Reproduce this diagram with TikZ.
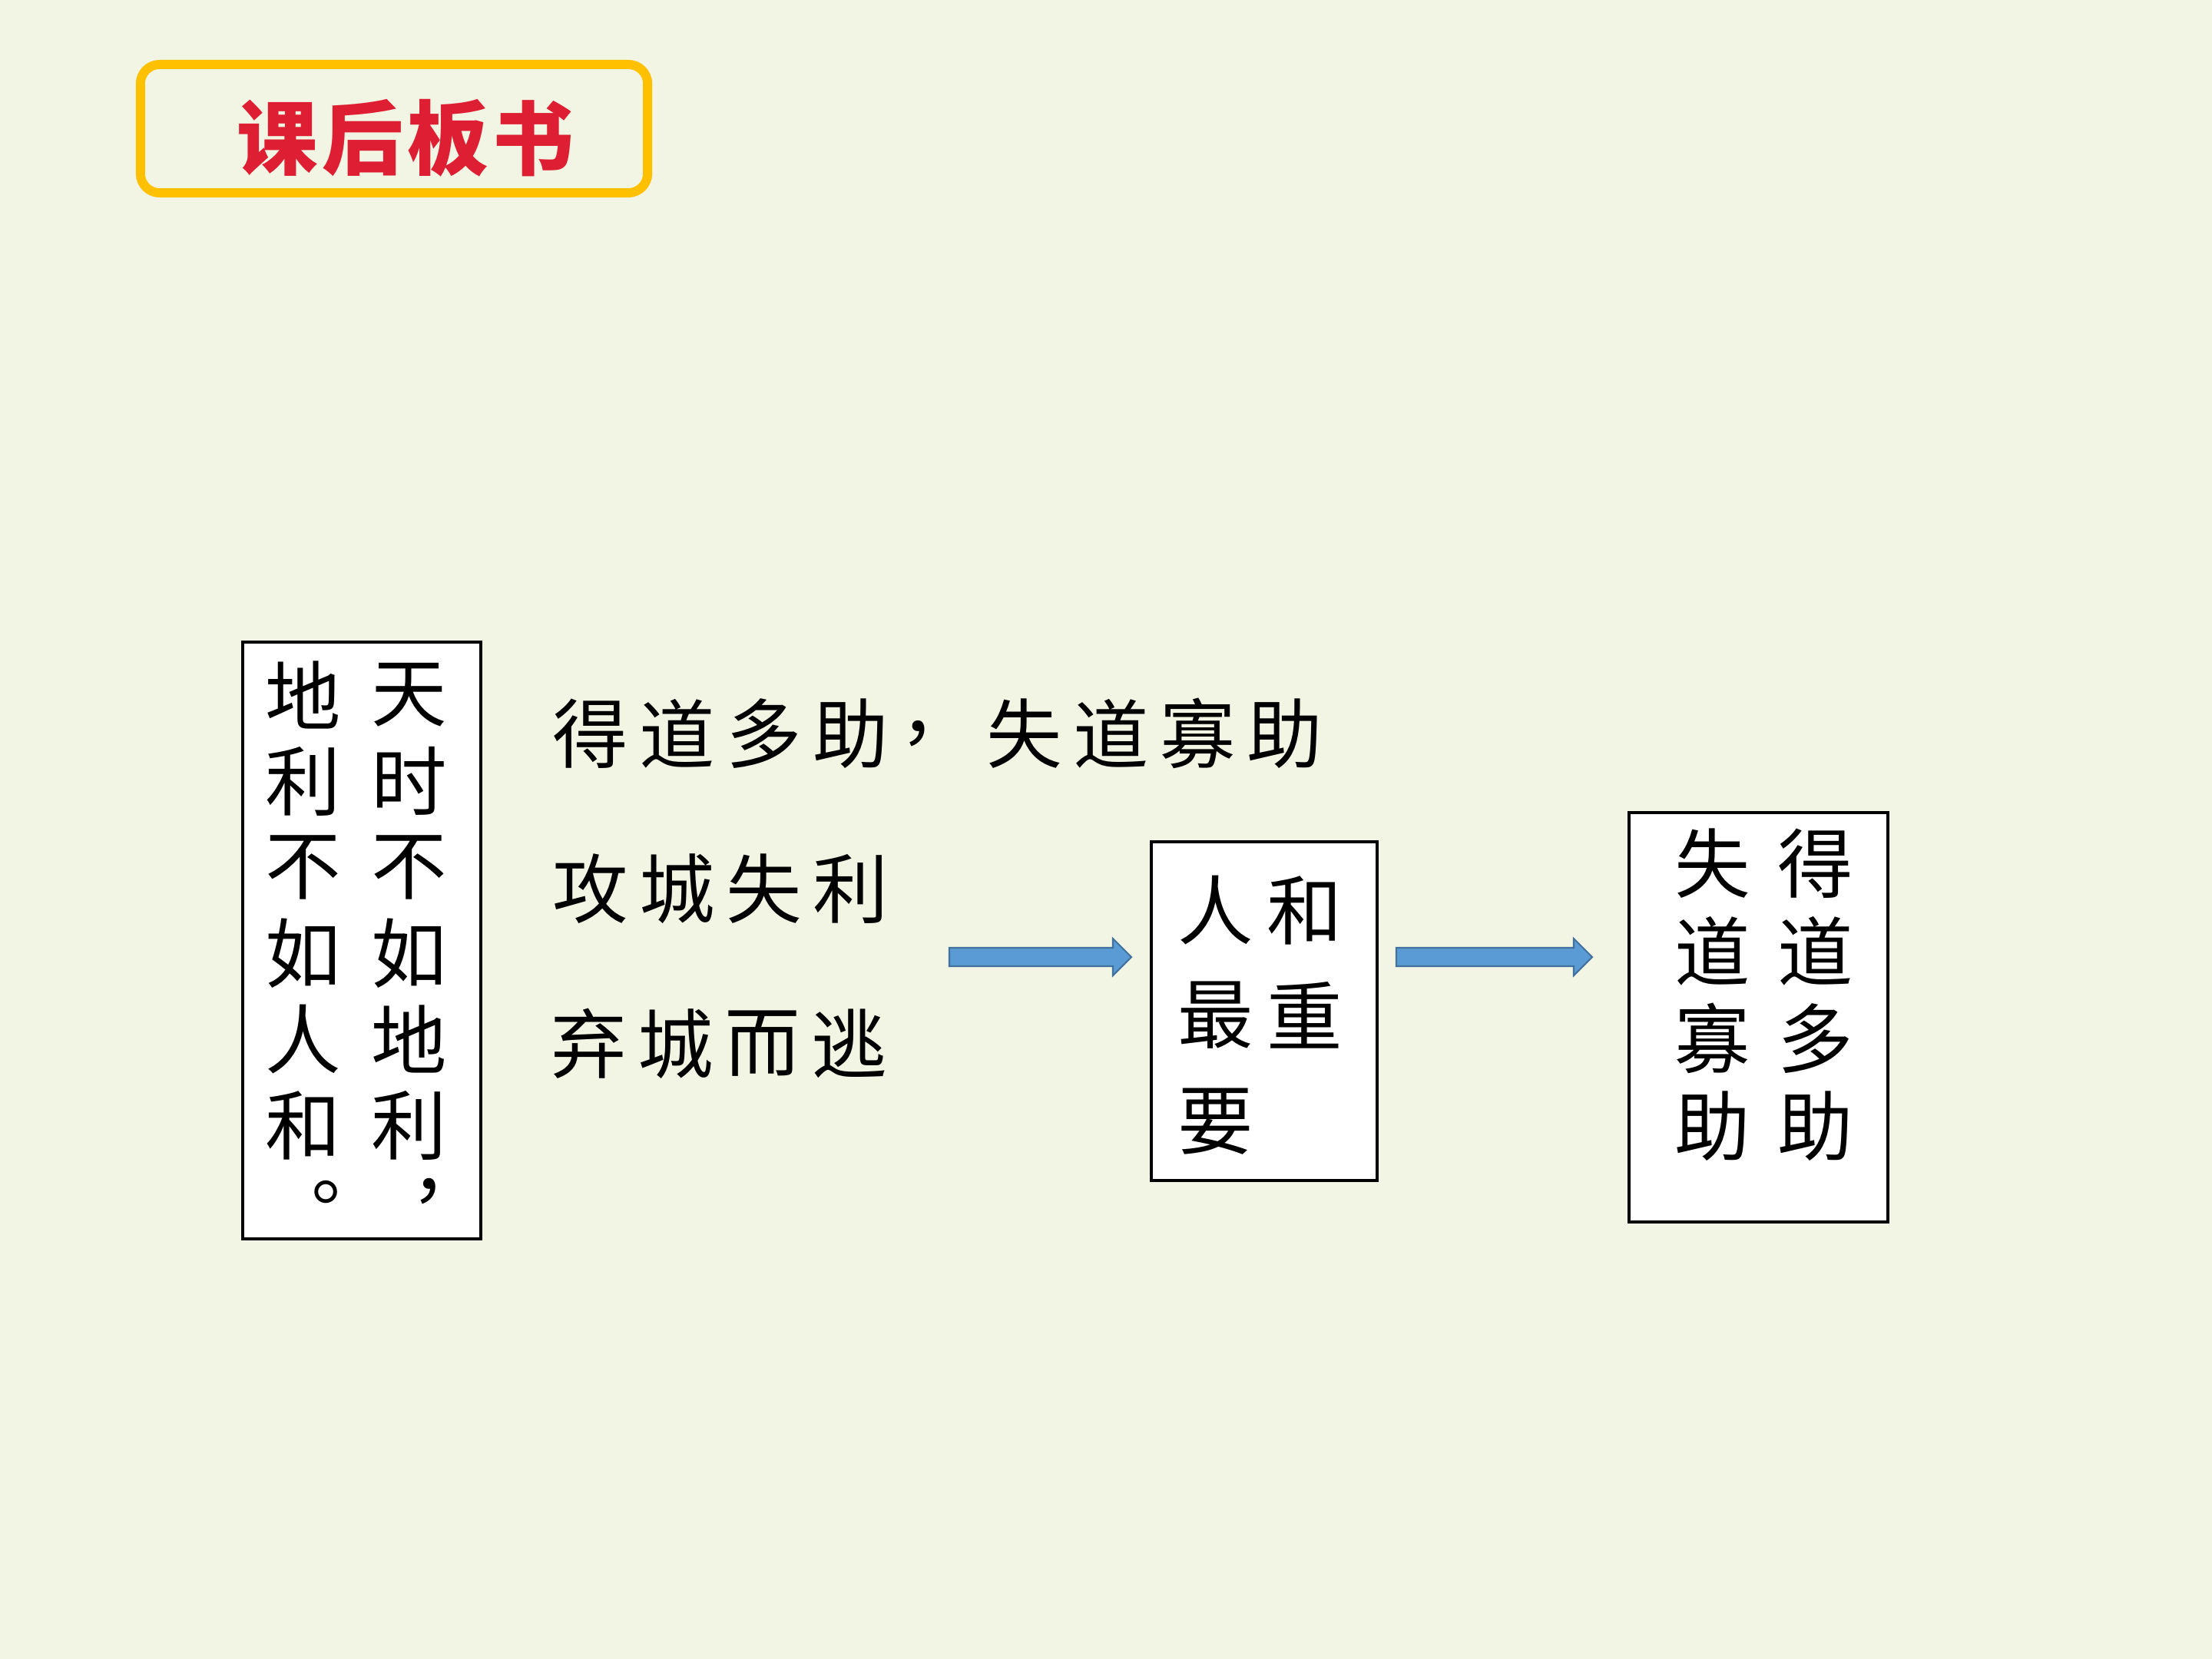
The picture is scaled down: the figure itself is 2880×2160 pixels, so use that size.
\documentclass[tikz,border=0pt]{standalone}
\usepackage{fontspec}
\usetikzlibrary{positioning}
\newfontfamily\kai{Noto Sans CJK SC}
\definecolor{bgcream}{RGB}{242,245,228}
\definecolor{titlegold}{RGB}{255,192,0}
\definecolor{titlered}{RGB}{222,30,50}
\definecolor{arrowblue}{RGB}{91,155,213}
\definecolor{arrowline}{RGB}{65,113,156}
\def\charsep{113}

\begin{document}
\begin{tikzpicture}[x=0.01cm,y=-0.01cm]
      \tikzstyle{hanzi}=[font=\kai\fontsize{28}{28}\selectfont,inner sep=0pt]
      \tikzstyle{title hanzi}=[hanzi,font=\kai\bfseries\fontsize{30}{30}\selectfont,text=titlered]
      \tikzstyle{card}=[draw=black,fill=white,line width=1pt,inner sep=0pt]
      \tikzstyle{blockarrow}=[draw=arrowline,fill=arrowblue,line width=0.6pt,line join=miter]

      % Page background
      \fill[bgcream] (0,0) rectangle (2880,2160);
      \useasboundingbox (0,0) rectangle (2880,2160);

      % Title box
      \node[draw=titlegold,line width=3.4pt,rounded corners=0.25cm,
          minimum width=6.60cm,minimum height=1.67cm] (title) at (513,167.5) {};
      \foreach \c [count=\i] in {课,后,板,书}
          \node[title hanzi] (T-\i) at (250+\i*111,180) {\c};

      % The saying, written in two columns from right to left
      \node[card,minimum width=3.10cm,minimum height=7.77cm] (saying) at (471,1224.5) {};
      \foreach \c [count=\i] in {天,时,不,如,地,利,︐}
          \node[hanzi] (R-\i) at (533,793+\i*112) {\c};
      \foreach \c [count=\i] in {地,利,不,如,人,和,︒}
          \node[hanzi] (L-\i) at (395,793+\i*112) {\c};

      % The three lines in the middle
      \foreach \c [count=\i] in {得,道,多,助,，,失,道,寡,助}
          \node[hanzi] (A-\i) at (656+\i*\charsep,955) {\c};
      \foreach \c [count=\i] in {攻,城,失,利}
          \node[hanzi] (B-\i) at (656+\i*\charsep,1157) {\c};
      \foreach \c [count=\i] in {弃,城,而,逃}
          \node[hanzi] (C-\i) at (654+\i*\charsep,1359) {\c};

      % Middle card
      \node[card,minimum width=2.94cm,minimum height=4.41cm] (mid) at (1646,1316.5) {};
      \node[hanzi] (M-1) at (1583,1185) {人};
      \node[hanzi] (M-2) at (1699,1185) {和};
      \node[hanzi] (M-3) at (1583,1322) {最};
      \node[hanzi] (M-4) at (1699,1322) {重};
      \node[hanzi] (M-5) at (1583,1460) {要};

      % Right card, again two columns from right to left
      \node[card,minimum width=3.37cm,minimum height=5.33cm] (result) at (2289.5,1324.5) {};
      \foreach \c [count=\i] in {得,道,多,助}
          \node[hanzi] (D-\i) at (2364,1010+\i*114) {\c};
      \foreach \c [count=\i] in {失,道,寡,助}
          \node[hanzi] (S-\i) at (2230,1010+\i*114) {\c};

      % Block arrows between the cards
      \coordinate (a1s) at (1236,1246);
      \coordinate (a1e) at (1473,1246);
      \coordinate (a2s) at (1818,1246);
      \coordinate (a2e) at (2073,1246);
      \foreach \s/\e in {a1s/a1e,a2s/a2e}
          \draw[blockarrow] ([yshift=0.12cm]\s) -- ([xshift=-0.24cm,yshift=0.12cm]\e)
              -- ([xshift=-0.24cm,yshift=0.24cm]\e) -- (\e)
              -- ([xshift=-0.24cm,yshift=-0.24cm]\e) -- ([xshift=-0.24cm,yshift=-0.12cm]\e)
              -- ([yshift=-0.12cm]\s) -- cycle;
  \end{tikzpicture}
\end{document}
